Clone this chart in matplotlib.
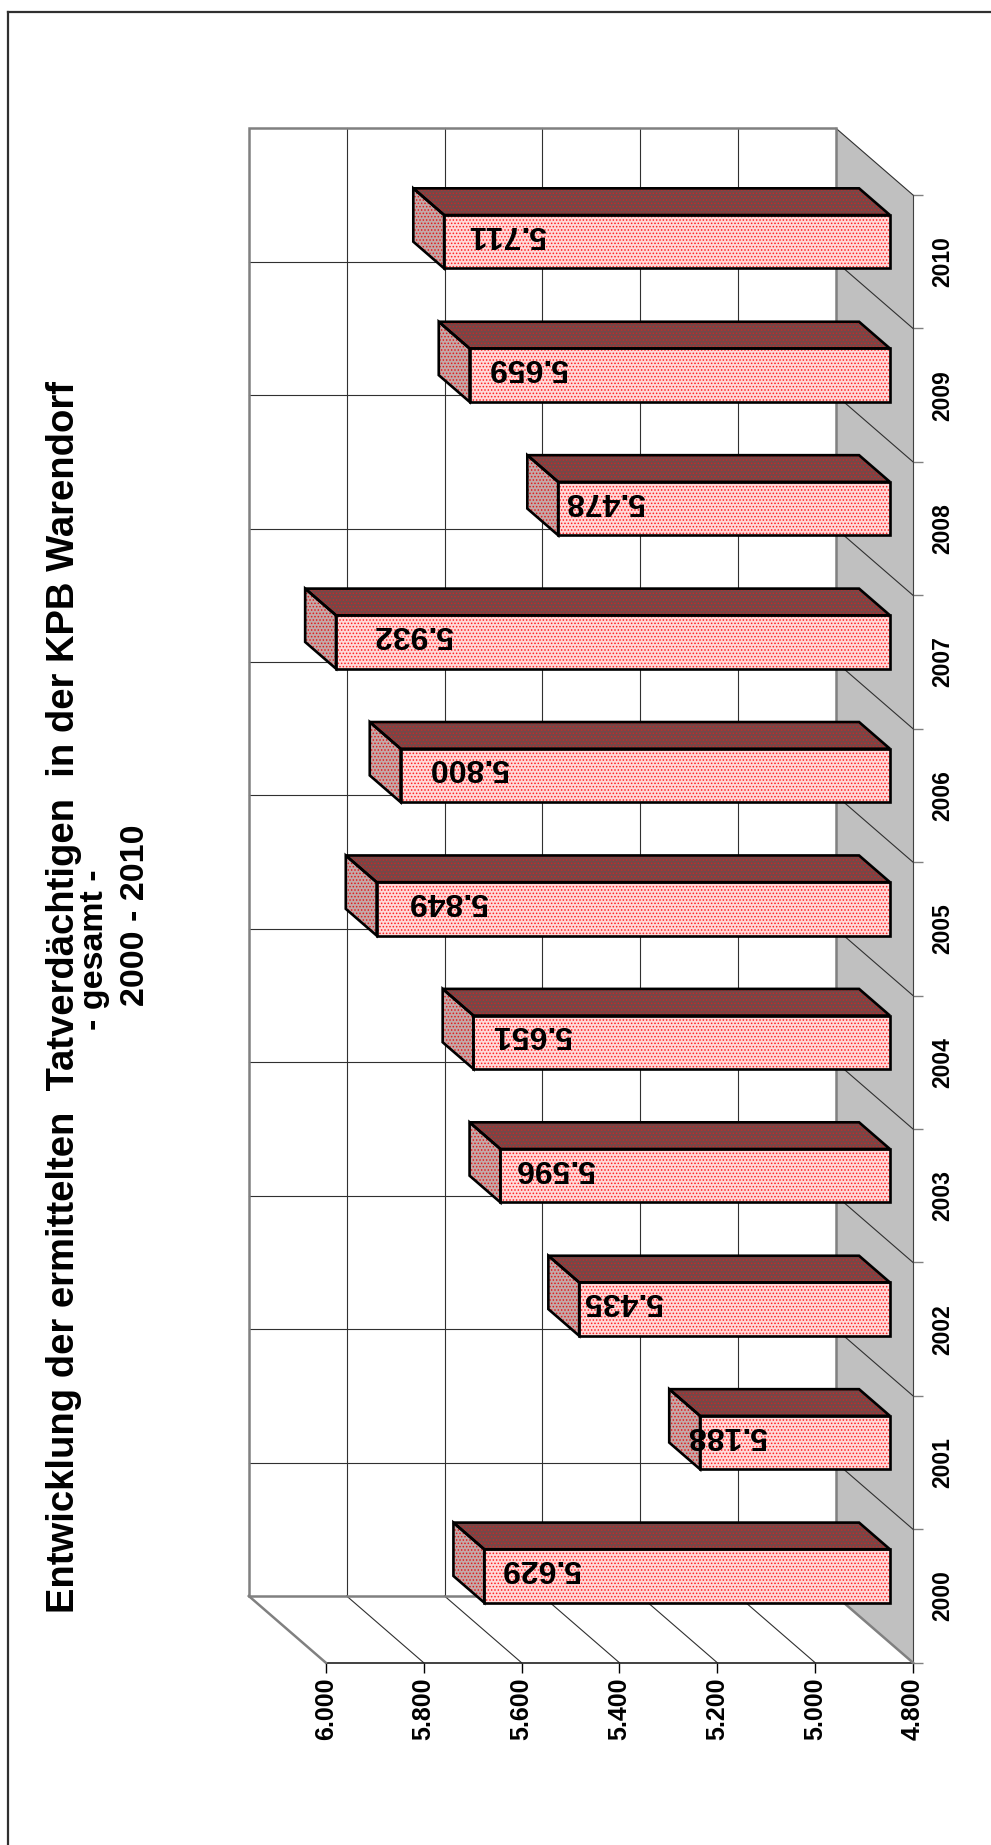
import matplotlib
matplotlib.use("Agg")
import matplotlib.pyplot as plt
from matplotlib.patches import Polygon
from matplotlib.lines import Line2D
import numpy as np

# ---- data -------------------------------------------------------------
years = ["2000", "2001", "2002", "2003", "2004", "2005",
         "2006", "2007", "2008", "2009", "2010"]
suspects = [5629, 5188, 5435, 5596, 5651, 5849, 5800, 5932, 5478, 5659, 5711]
value_ticks = [4800, 5000, 5200, 5400, 5600, 5800, 6000]
value_tick_labels = ["4.800", "5.000", "5.200", "5.400", "5.600", "5.800", "6.000"]
title_lines = ["Entwicklung der ermittelten  Tatverdächtigen  in der KPB Warendorf",
               "- gesamt -",
               "2000 - 2010"]

# ---- styling / 3-D geometry ------------------------------------------
plt.rcParams["font.family"] = ["Liberation Sans", "DejaVu Sans"]
plt.rcParams["hatch.linewidth"] = 0.7

V_MIN, V_MAX = value_ticks[0], value_ticks[-1]
DX, DY = 157.4, 0.5          # offset of the back wall (value units, category units)
HALF = 0.2                   # half bar width in category units
D_FRONT, D_BACK = 0.3, 0.7   # depth range occupied by the bars
GRID = "#303030"
WALL_EDGE = "#808080"

W, H = 991, 1845
fig = plt.figure(figsize=(W / 100, H / 100), dpi=100)
fig.patch.set_facecolor("white")

ax = fig.add_axes([325.8 / W, 1 - 1662.7 / H, 587.2 / W, 1467.7 / H])
ax.set_xlim(V_MAX, V_MIN)
n = len(years)
ax.set_ylim(-0.5, n - 0.5)
ax.patch.set_visible(False)


def at(v, c, d):
    """Project a point (value, category) to depth d (0 = front, 1 = back wall)."""
    return (v + d * DX, c + d * DY)


def poly(pts, **kw):
    p = Polygon(pts, closed=True, clip_on=False, **kw)
    ax.add_patch(p)
    return p


def seg(p0, p1, **kw):
    ax.add_line(Line2D([p0[0], p1[0]], [p0[1], p1[1]], clip_on=False, **kw))


c_lo, c_hi = -0.5, n - 0.5

# back wall
poly([at(V_MIN, c_lo, 1), at(V_MAX, c_lo, 1), at(V_MAX, c_hi, 1), at(V_MIN, c_hi, 1)],
     facecolor="white", edgecolor="none", zorder=1)
# lower side wall
poly([at(V_MIN, c_lo, 1), at(V_MAX, c_lo, 1), at(V_MAX, c_lo, 0), at(V_MIN, c_lo, 0)],
     facecolor="white", edgecolor="none", zorder=1)
# grey floor along the category axis
poly([at(V_MIN, c_lo, 1), at(V_MIN, c_hi, 1), at(V_MIN, c_hi, 0), at(V_MIN, c_lo, 0)],
     facecolor="#C0C0C0", edgecolor="none", zorder=1)

# value gridlines on back wall and side wall
for v in value_ticks[1:-1]:
    seg(at(v, c_lo, 1), at(v, c_hi, 1), color=GRID, lw=0.8, zorder=2)
    seg(at(v, c_lo, 1), at(v, c_lo, 0), color=GRID, lw=0.8, zorder=2)
# category gridlines on back wall and floor
for k in range(n - 1):
    c = k + 0.5
    seg(at(V_MAX, c, 1), at(V_MIN, c, 1), color=GRID, lw=0.8, zorder=2)
    seg(at(V_MIN, c, 1), at(V_MIN, c, 0), color=GRID, lw=0.8, zorder=2)
seg(at(V_MIN, c_hi, 1), at(V_MIN, c_hi, 0), color=GRID, lw=0.8, zorder=2)

# wall outlines
wall_kw = dict(color=WALL_EDGE, lw=1.8, zorder=3, solid_joinstyle="miter")
corners = [at(V_MIN, c_lo, 1), at(V_MIN, c_hi, 1), at(V_MAX, c_hi, 1),
           at(V_MAX, c_lo, 1), at(V_MIN, c_lo, 1)]
ax.add_line(Line2D([p[0] for p in corners], [p[1] for p in corners],
                   clip_on=False, **wall_kw))
seg(at(V_MAX, c_lo, 1), at(V_MAX, c_lo, 0), **wall_kw)
seg(at(V_MIN, c_lo, 1), at(V_MIN, c_lo, 0), **wall_kw)

# ---- bars ---------------------------------------------------------------
FRONT = ("#FFD9D9", "#FF2020")
SIDE = ("#C4A8A8", "#E01C1C")
TOP = ("#744848", "#C82828")
HATCH = "....."

for i, v in enumerate(suspects):
    lo, hi = i - HALF, i + HALF
    faces = [
        ([at(V_MIN, hi, D_FRONT), at(v, hi, D_FRONT), at(v, hi, D_BACK), at(V_MIN, hi, D_BACK)], TOP),
        ([at(v, lo, D_FRONT), at(v, hi, D_FRONT), at(v, hi, D_BACK), at(v, lo, D_BACK)], SIDE),
        ([at(V_MIN, lo, D_FRONT), at(v, lo, D_FRONT), at(v, hi, D_FRONT), at(V_MIN, hi, D_FRONT)], FRONT),
    ]
    for pts, (base, dots) in faces:
        poly(pts, facecolor=base, edgecolor=dots, hatch=HATCH, linewidth=0, zorder=5)
        poly(pts, fill=False, edgecolor="black", linewidth=1.9, joinstyle="miter", zorder=6)

    label = f"{v:,}".replace(",", ".")
    lx = V_MIN + 0.86 * (v - V_MIN)
    ax.text(*at(lx, i + 0.06, D_FRONT), label, rotation=180, ha="center", va="center",
            fontsize=23, fontweight="bold", color="black", zorder=7)

# ---- axes ------------------------------------------------------------------
for s in ("top", "left"):
    ax.spines[s].set_visible(False)
ax.spines["bottom"].set_color("#202020")
ax.spines["bottom"].set_linewidth(1.2)
ax.spines["right"].set_color("#404040")
ax.spines["right"].set_linewidth(0.8)

ax.set_xticks(value_ticks)
ax.set_xticklabels(value_tick_labels, rotation=90, fontsize=18, fontweight="bold")
ax.tick_params(axis="x", direction="out", length=7.5, width=1, color="black", pad=3)

ax.yaxis.tick_right()
ax.set_yticks(np.arange(-0.5, n, 1.0))
ax.set_yticklabels([])
ax.set_yticks(np.arange(n), minor=True)
ax.set_yticklabels(years, minor=True, rotation=90, fontsize=16.5, fontweight="bold",
                   va="center")
ax.tick_params(axis="y", which="major", direction="out", length=7.5, width=1,
               color="#808080", right=True, left=False)
ax.tick_params(axis="y", which="minor", length=0, pad=13, right=True, left=False)

# ---- title -------------------------------------------------------------
fig.text(64 / W, 1 - 997 / H, title_lines[0], rotation=90, ha="center", va="center",
         fontsize=27.5, fontweight="bold")
fig.text(94 / W, 1 - 950 / H, title_lines[1], rotation=90, ha="center", va="center",
         fontsize=24.5, fontweight="bold")
fig.text(135 / W, 1 - 915 / H, title_lines[2], rotation=90, ha="center", va="center",
         fontsize=24.5, fontweight="bold")

# page frame
fig.add_artist(Line2D([8 / W, 8 / W], [0, 1 - 12 / H], transform=fig.transFigure,
                      color="#303030", lw=1.6))
fig.add_artist(Line2D([8 / W, 1], [1 - 12 / H, 1 - 12 / H], transform=fig.transFigure,
                      color="#303030", lw=1.6))

fig.savefig("out.png", dpi=100)
